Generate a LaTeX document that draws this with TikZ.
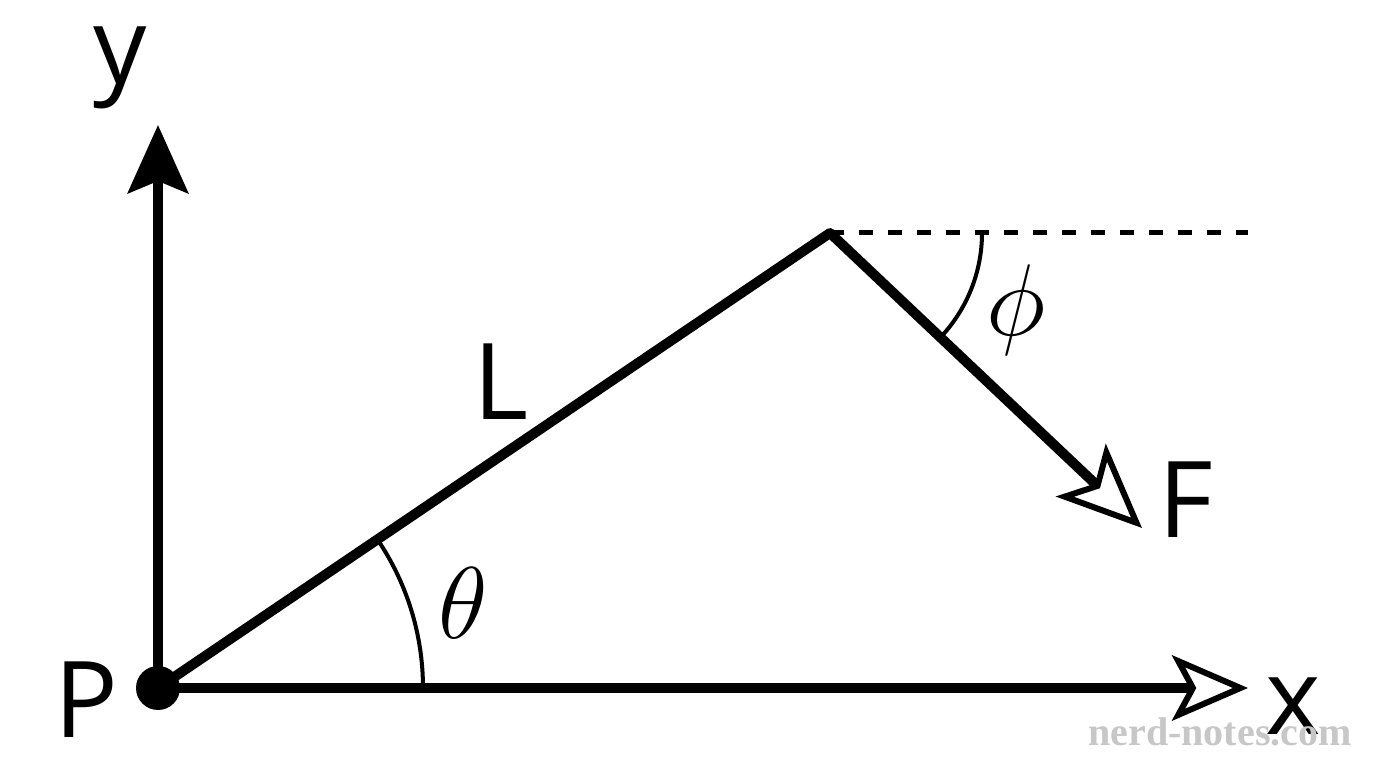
\documentclass[tikz,border=0pt]{standalone}
\usepackage{fontspec}
\setmainfont{Open Sans}
\newfontfamily\wmfont{Liberation Serif}
\usetikzlibrary{arrows.meta,positioning}

\begin{document}
\begin{tikzpicture}[
  x=1pt, y=1pt,
  thickline/.style={line width=10pt},
  thinarc/.style={line width=4pt},
  lbl/.style={inner sep=0pt, font=\fontsize{106}{110}\selectfont},
  greek/.style={inner sep=0pt, font=\Huge, scale=4.1},
  openhead/.style={-{Stealth[open, length=#1pt, width=0.86*#1pt, inset=0.23*#1pt, line width=6pt]}}
]
\useasboundingbox (0,0) rectangle (1376,768);

% points
\coordinate (P) at (158,80);
\coordinate (C) at (830,535);
\coordinate (ytip) at (158,643);
\coordinate (xtip) at (1248,80);
\coordinate (dashend) at (1248,535);
\coordinate (Ftip) at (1142,240);

% axes
\draw[thickline, -{Stealth[length=68pt, width=60pt, inset=12pt]}] (P) -- (ytip);
\draw[thickline, openhead=76] (P) -- (xtip);
\fill (P) circle (22);

% rod and force
\draw[thickline, line cap=round, line join=miter] (P) -- (C);
\draw[thickline, openhead=84] (C) -- (Ftip);
\draw[line width=5pt, dash pattern=on 14pt off 15pt] (C) -- (dashend);

% angles
\draw[thinarc] (P) ++(265,0) arc (0:34.1:265);
\draw[thinarc] (C) ++(152,0) arc (0:-43.4:152);

% labels
\node[lbl] (ylabel) at (120,700) {y};
\node[lbl] (Plabel) at (86,68) {P};
\node[lbl] (xlabel) at (1293,62) {x};
\node[lbl] (Llabel) at (501,386) {L};
\node[lbl] (Flabel) at (1186,268) {F};
\node[greek] (theta) at (463,165) {$\theta$};
\node[greek] (phi) at (1016,458) {$\phi$};

% watermark
\node[inner sep=0pt, text=black!22, font=\wmfont\bfseries\fontsize{40}{40}\selectfont] (wm) at (1220,36) {nerd-notes.com};
\end{tikzpicture}
\end{document}
